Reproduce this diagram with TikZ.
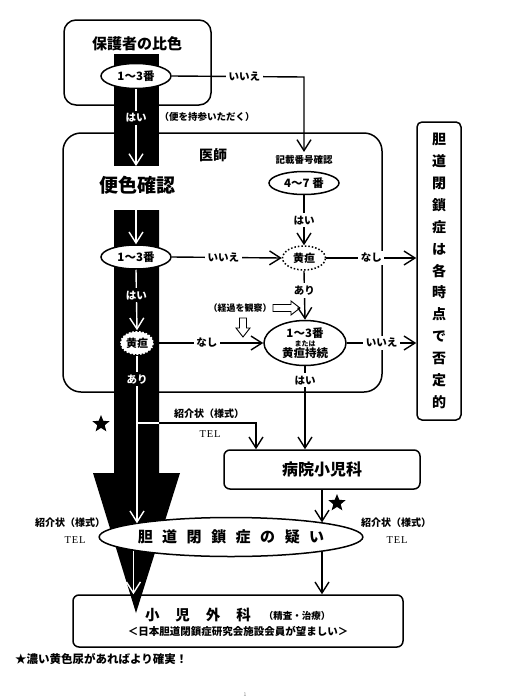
\documentclass[tikz,border=0pt]{standalone}
\usepackage{fontspec}
\setmainfont{Noto Sans CJK JP}
\newfontfamily\telfont{Liberation Serif}[LetterSpace=8]
\usetikzlibrary{arrows.meta,shapes.geometric}
\newcommand{\fs}[1]{\fontsize{#1}{#1}\selectfont}
\newcommand{\bgsp}{\hspace{9.5pt}}
\newcommand{\sgsp}{\hspace{16pt}}
\begin{document}
\begin{tikzpicture}[x=1pt,y=-1pt,
 box/.style={draw,line width=1.5pt,rectangle,inner sep=0pt},
 ell/.style={draw,ellipse,line width=1.5pt,fill=white,inner sep=0pt},
 tipa/.style={-{Straight Barb[length=11pt,width=14pt]}},
 conn/.style={line width=1.4pt,tipa},
 wconn/.style={line width=1.4pt,white,tipa},
 lab/.style={fill=white,inner sep=2.5pt,font=\bfseries\fs{10.5}},
 wlab/.style={fill=black,text=white,inner sep=2.5pt,font=\bfseries\fs{10.5}},
 txt/.style={inner sep=1pt},
 starn/.style={star,star points=5,star point ratio=2.3,fill=black,inner sep=0pt,minimum size=18pt},
 hollow/.style={line width=0.9pt,fill=white}
]
\useasboundingbox (0,0) rectangle (504,699);
\fill[white] (0,0) rectangle (504,699);

% boxes
\node[box,rounded corners=12pt,minimum width=147pt,minimum height=85pt] (pbox) at (137.5,62.5) {};
\node[box,rounded corners=18pt,minimum width=319pt,minimum height=259pt] (dbox) at (222.5,262.5) {};
\node[box,rounded corners=5pt,minimum width=44pt,minimum height=298pt,align=center,font=\bfseries\fontsize{14}{21.9}\selectfont] (neg) at (439,271) {胆\\道\\閉\\鎖\\症\\は\\各\\時\\点\\で\\否\\定\\的};
\node[box,rounded corners=6pt,minimum width=196pt,minimum height=39pt,font=\bfseries\fs{16}] (hosp) at (322,469.5) {病院小児科};
\node[box,rounded corners=6pt,minimum width=330pt,minimum height=52pt] (surg) at (238,621) {};

% black column
\fill[black] (114,54) rectangle (159,166);
\fill[black] (114,210) -- (159,210) -- (159,473) -- (180,473) -- (136,613) -- (93,473) -- (114,473) -- cycle;

% nodes
\node[txt,font=\bfseries\fs{15}] (ptitle) at (137,44) {保護者の比色};
\node[ell,minimum width=70pt,minimum height=25pt,font=\bfseries\fs{11.5}] (e1) at (136,76) {1〜3番};
\node[txt,font=\bfseries\fs{9.5}] (bring) at (207,117) {（便を持参いただく）};
\node[txt,font=\bfseries\fs{14}] (doc) at (213,155) {医師};
\node[txt,font=\bfseries\fs{19}] (bc) at (137,185) {便色確認};
\node[ell,minimum width=70pt,minimum height=24pt,font=\bfseries\fs{11.5}] (e2) at (136,257) {1〜3番};
\node[ell,dotted,minimum width=34pt,minimum height=24pt,font=\bfseries\fs{11}] (y1) at (137,343) {黄疸};
\node[font=\bfseries\fs{9.5}] (kl) at (304,160) {記載番号確認};
\node[ell,minimum width=70pt,minimum height=23pt,font=\bfseries\fs{11.5}] (k47) at (304,183) {4〜7 番};
\node[ell,dotted,minimum width=43pt,minimum height=24pt,font=\bfseries\fs{11}] (d1) at (304,258) {黄疸};
\node[ell,minimum width=82pt,minimum height=45pt,align=center,font=\bfseries\fontsize{11}{9}\selectfont] (e3) at (305,343) {{\fs{11.5}1〜3番}\\{\fs{7}または}\\{\fs{11.5}黄疸持続}};
\node[ell,minimum width=257pt,minimum height=39pt,font=\bfseries\fs{15}] (e4) at (231,537) {胆\bgsp 道\bgsp 閉\bgsp 鎖\bgsp 症\bgsp の\bgsp 疑\bgsp い};

\node[txt,font=\bfseries\fs{14.5}] (sg) at (198,615) {小\sgsp 児\sgsp 外\sgsp 科};
\node[txt,font=\bfseries\fs{9.5}] (sgs) at (297,616) {（精査・治療）};
\node[txt,font=\bfseries\fs{10.5}] (sgn) at (238,631) {＜日本胆道閉鎖症研究会施設会員が望ましい＞};

\node[txt,font=\bfseries\fs{10}] (r1) at (209,414) {紹介状（様式）};
\node[txt,font=\telfont\fs{10.5}] (t1) at (210,434) {TEL};
\node[txt,font=\bfseries\fs{10}] (r2) at (70,523) {紹介状（様式）};
\node[txt,font=\telfont\fs{10.5}] (t2) at (75,540) {TEL};
\node[txt,font=\bfseries\fs{10}] (r3) at (396,523) {紹介状（様式）};
\node[txt,font=\telfont\fs{10.5}] (t3) at (397,540) {TEL};

\node[starn] (s1) at (101,424) {};
\node[starn] (s2) at (337,503) {};

\node[txt,font=\bfseries\fs{11.5},anchor=west] (fn) at (14,659) {★濃い黄色尿があればより確実！};
\node[txt,text=gray,font=\fs{5}] (pg) at (245,695) {1};

% hollow arrows
\node[txt,font=\bfseries\fs{9}] (obs) at (240,308) {（経過を観察）};
\draw[hollow] (273,304.5) -- (291,304.5) -- (291,301) -- (300,308) -- (291,315) -- (291,311.5) -- (273,311.5) -- cycle;
\draw[hollow] (239.5,318) -- (239.5,328) -- (236,328) -- (243,337) -- (250,328) -- (246.5,328) -- (246.5,318) -- cycle;

% connectors
\coordinate (c1) at (304,77);
\draw[conn] (e1.east) -- node[lab,pos=0.55]{いいえ} (c1) -- (kl.north);
\coordinate (w1) at (136,166);
\draw[wconn] (e1.south) -- node[wlab,pos=0.37]{はい} (w1);
\coordinate (w2) at (136,210);
\draw[wconn] (w2) -- (e2.north);
\draw[wconn] (e2.south) -- node[wlab,pos=0.42]{はい} (y1.north);
\draw[wconn] (y1.south) -- node[wlab,pos=0.14]{あり} (y1.south |- e4.172);
\draw[wconn] (e4.188) -- (e4.188 |- surg.north);

\coordinate (b0) at (136,423);
\coordinate (b1) at (159,423);
\coordinate (b2) at (256,423);
\draw[line width=1.4pt,white] (b0) -- (b1);
\draw[conn] (b1) -- (b2) -- (b2 |- hosp.north);

\draw[conn] (k47.south) -- node[lab]{はい} (d1.north);
\draw[conn] (e2.east) -- node[lab,pos=0.47]{いいえ} (d1.west);
\draw[conn] (d1.east) -- node[lab]{なし} (d1.east -| neg.west);
\draw[conn] (d1.south) -- node[lab,pos=0.4]{あり} (e3.north);
\draw[conn] (y1.east) -- node[lab,pos=0.48]{なし} (e3.west);
\draw[conn] (e3.east) -- node[lab]{いいえ} (e3.east -| neg.west);
\draw[conn] (e3.south) -- node[lab,pos=0.17]{はい} (e3.south |- hosp.north);
\draw[conn] (hosp.south) -- (hosp.south |- e4.9);
\draw[conn] (hosp.south |- e4.-9) -- (hosp.south |- surg.north);
\end{tikzpicture}
\end{document}
